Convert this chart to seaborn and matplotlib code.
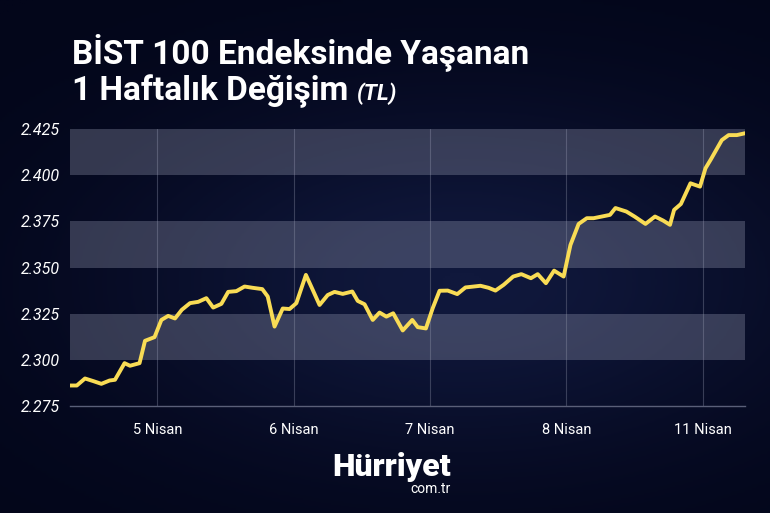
import numpy as np
import pandas as pd
import seaborn as sns
import matplotlib.pyplot as plt

# zaman (5 Nisan = 0 gün), endeks değeri (bin puan)
gun = [-0.64, -0.59, -0.53, -0.47, -0.41, -0.35, -0.31, -0.24, -0.20, -0.13,
       -0.09, -0.02, 0.03, 0.08, 0.13, 0.18, 0.24, 0.30, 0.36, 0.41,
       0.47, 0.52, 0.58, 0.64, 0.70, 0.77, 0.81, 0.86, 0.92, 0.97,
       1.02, 1.09, 1.14, 1.19, 1.25, 1.30, 1.36, 1.43, 1.47, 1.52,
       1.58, 1.63, 1.68, 1.73, 1.80, 1.87, 1.91, 1.97, 2.02, 2.07,
       2.13, 2.20, 2.26, 2.37, 2.43, 2.48, 2.54, 2.61, 2.67, 2.74,
       2.79, 2.85, 2.91, 2.98, 3.03, 3.09, 3.15, 3.20, 3.26, 3.32,
       3.36, 3.44, 3.50, 3.58, 3.65, 3.71, 3.76, 3.79, 3.84, 3.91,
       3.98, 4.02, 4.06, 4.14, 4.19, 4.25, 4.31]
endeks = [2.2861, 2.2861, 2.2899, 2.2885, 2.2870, 2.2888, 2.2892, 2.2982, 2.2968, 2.2982,
          2.3103, 2.3123, 2.3216, 2.3238, 2.3224, 2.3271, 2.3307, 2.3314, 2.3334, 2.3283,
          2.3303, 2.3368, 2.3372, 2.3397, 2.3390, 2.3383, 2.3343, 2.3180, 2.3278, 2.3275,
          2.3307, 2.3460, 2.3379, 2.3297, 2.3351, 2.3368, 2.3357, 2.3370, 2.3319, 2.3301,
          2.3216, 2.3256, 2.3234, 2.3252, 2.3159, 2.3216, 2.3177, 2.3170, 2.3280, 2.3374,
          2.3375, 2.3356, 2.3392, 2.3401, 2.3390, 2.3375, 2.3406, 2.3451, 2.3464, 2.3442,
          2.3464, 2.3415, 2.3483, 2.3451, 2.3622, 2.3736, 2.3767, 2.3767, 2.3776, 2.3785,
          2.3822, 2.3803, 2.3776, 2.3736, 2.3776, 2.3754, 2.3731, 2.3812, 2.3844, 2.3956,
          2.3938, 2.4037, 2.4086, 2.4190, 2.4217, 2.4217, 2.4227]

gun_konum = [0, 1, 2, 3, 4]
gun_etiket = ["5 Nisan", "6 Nisan", "7 Nisan", "8 Nisan", "11 Nisan"]
y_ticks = [2.275, 2.300, 2.325, 2.350, 2.375, 2.400, 2.425]
y_etiket = ["2.275", "2.300", "2.325", "2.350", "2.375", "2.400", "2.425"]
bantlar = [(2.300, 2.325), (2.350, 2.375), (2.400, 2.425)]

BG = "#070b1f"
SARI = "#f9dc55"
FONT = ["Roboto", "DejaVu Sans"]

sns.set_theme(style="dark")
plt.rcParams["font.family"] = FONT

fig = plt.figure(figsize=(7.7, 5.13), dpi=100)
fig.patch.set_facecolor(BG)

# arka plan degrade
bg = fig.add_axes([0, 0, 1, 1], zorder=-5)
yy, xx = np.mgrid[0:1:200j, 0:1:300j]
glow = np.exp(-((xx - 0.6) ** 2 / 0.2 + (yy - 0.45) ** 2 / 0.12))
bg.imshow(glow, cmap=sns.blend_palette(["#03061a", "#10183c"], as_cmap=True),
          extent=[0, 1, 0, 1], aspect="auto", origin="lower")
bg.axis("off")

ax = fig.add_axes([70 / 770, 1 - 406 / 513, 675 / 770, 277 / 513])
ax.set_facecolor((0, 0, 0, 0))

for lo, hi in bantlar:
    ax.axhspan(lo, hi, color="#a4a8bf", alpha=0.3, lw=0, zorder=1)
for g in gun_konum:
    ax.axvline(g, color="#5a5f78", lw=0.8, alpha=0.6, zorder=0.5)

df = pd.DataFrame({"gun": gun, "endeks": endeks})
sns.lineplot(data=df, x="gun", y="endeks", color=SARI, lw=2.8, ax=ax, zorder=3,
             solid_joinstyle="round", solid_capstyle="round")

ax.set_xlim(-0.64, 4.31)
ax.set_ylim(2.275, 2.425)
ax.set_xticks(gun_konum)
ax.set_xticklabels(gun_etiket, color="white", fontsize=10.5)
ax.set_yticks(y_ticks)
ax.set_yticklabels(y_etiket, color="white", fontsize=11.5, style="italic")
ax.tick_params(axis="x", length=0, pad=12)
ax.tick_params(axis="y", length=0, pad=7)
ax.set_xlabel("")
ax.set_ylabel("")
ax.grid(False)
for s in ["top", "right", "left"]:
    ax.spines[s].set_visible(False)
ax.spines["bottom"].set_color("#5a5f78")
ax.spines["bottom"].set_linewidth(1)

fig.text(72 / 770, 1 - 63 / 513, "BİST 100 Endeksinde Yaşanan", color="white",
         fontsize=24, fontweight="bold", family=FONT)
t2 = fig.text(72 / 770, 1 - 100 / 513, "1 Haftalık Değişim ", color="white",
              fontsize=24, fontweight="bold", family=FONT)
fig.canvas.draw()
bb = t2.get_window_extent()
fig.text(bb.x1 / 770, 1 - 100 / 513, "(TL)", color="white", fontsize=16,
         fontweight="bold", style="italic", family=FONT)

fig.text(451 / 770, 1 - 476 / 513, "Hürriyet", color="white", fontsize=23,
         fontweight="heavy", ha="right", family=FONT)
fig.text(451 / 770, 1 - 493 / 513, "com.tr", color="white", fontsize=10,
         ha="right", family=FONT)

fig.savefig("out.png", dpi=100, facecolor=fig.get_facecolor())
